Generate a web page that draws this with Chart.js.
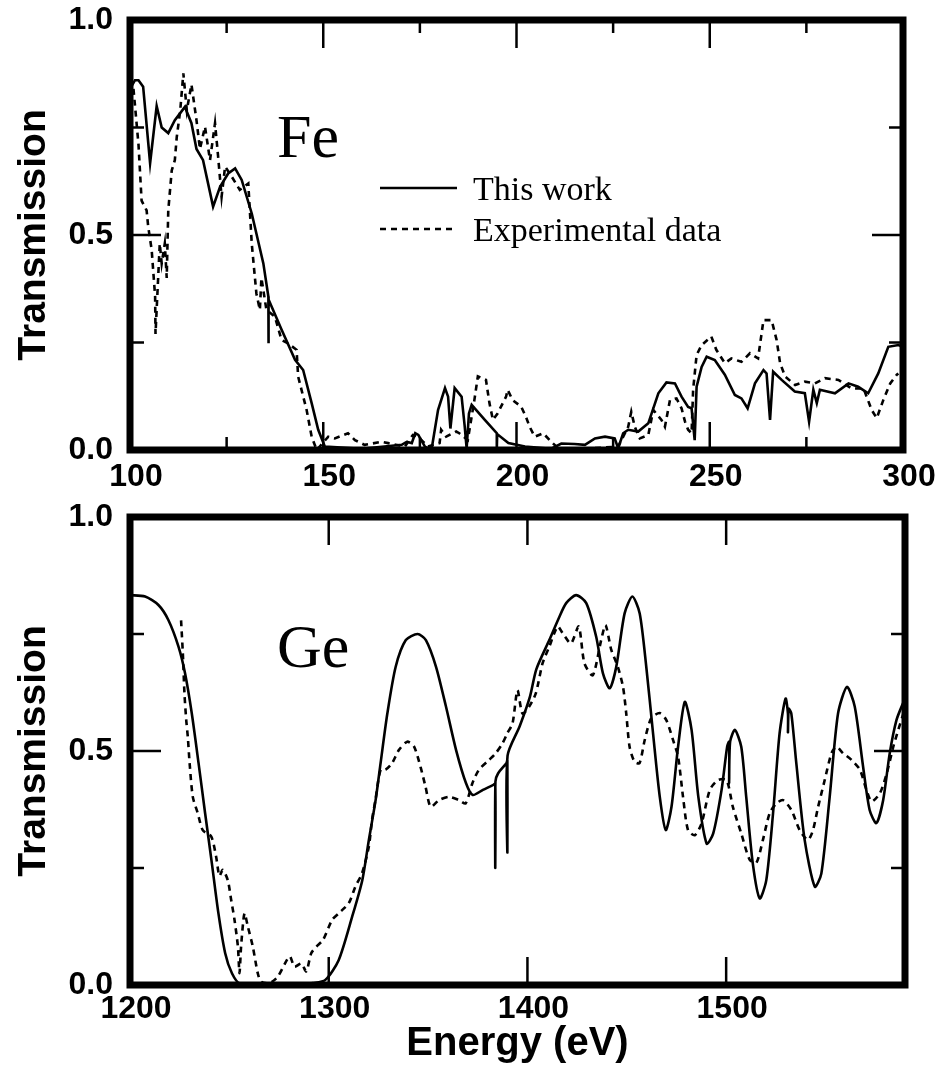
<!DOCTYPE html>
<html>
<head>
<meta charset="utf-8">
<script src="https://cdn.jsdelivr.net/npm/chart.js@4.4.1/dist/chart.umd.min.js"></script>
<style>
  html, body { margin: 0; padding: 0; background: #fff; }
  #page { position: relative; width: 935px; height: 1074px; }
  .box { position: absolute; left: 0; width: 935px; }
  #top-box { top: 0; height: 495px; }
  #bottom-box { top: 495px; height: 579px; }
</style>
</head>
<body>
<div id="page">
  <div class="box" id="top-box"><canvas id="fe-chart"></canvas></div>
  <div class="box" id="bottom-box"><canvas id="ge-chart"></canvas></div>
</div>
<script>
// Fe, 100-300 eV: [energy, transmission]
const feWork = [
  [100, 0.84], [101.3, 0.86], [102.2, 0.86], [103.4, 0.845], [105.2, 0.667], [106.9, 0.80],
  [108.2, 0.75], [109.9, 0.737], [111.6, 0.767], [114.2, 0.798], [115.9, 0.76], [117.2, 0.70],
  [118.9, 0.674], [121.5, 0.566], [123.3, 0.612], [125.4, 0.643], [127.2, 0.655], [128.9, 0.628],
  [131.5, 0.55], [134.5, 0.434], [135.8, 0.357], [135.8, 0.248], [135.9, 0.35], [139.2, 0.28],
  [142.7, 0.21], [144.8, 0.186], [147.0, 0.109], [148.7, 0.047], [150.4, 0.008], [160, 0.003],
  [170.3, 0.012], [171.6, 0.019], [172.9, 0.016], [173.8, 0.039], [174.6, 0.035], [176.3, 0.008],
  [178.0, 0.0], [179.7, 0.093], [181.5, 0.144], [182.3, 0.124], [182.9, 0.05], [184.0, 0.144],
  [185.8, 0.124], [186.6, 0.055], [187.1, 0.004], [187.7, 0.085], [188.4, 0.105], [191.8, 0.07],
  [194.9, 0.039], [194.9, 0.0], [195.0, 0.037], [197.9, 0.016], [202.2, 0.008], [209.0, 0.003],
  [211.6, 0.015], [215.0, 0.014], [217.7, 0.012], [220.3, 0.027], [222.9, 0.031], [225.4, 0.027],
  [226.3, 0.004], [227.6, 0.039], [228.9, 0.047], [231.5, 0.043], [234.1, 0.062], [236.7, 0.132],
  [238.8, 0.157], [241.0, 0.155], [242.7, 0.124], [244.4, 0.10], [245.3, 0.097], [246.1, 0.023],
  [246.6, 0.147], [247.9, 0.193], [249.2, 0.217], [251.3, 0.209], [253.9, 0.175], [256.5, 0.128],
  [258.2, 0.12], [259.8, 0.097], [261.7, 0.155], [263.9, 0.186], [264.7, 0.178], [265.6, 0.07],
  [266.4, 0.182], [268.6, 0.163], [272.0, 0.136], [274.6, 0.132], [275.7, 0.066], [276.8, 0.14],
  [277.7, 0.109], [278.5, 0.14], [282.4, 0.132], [285.9, 0.155], [288.4, 0.147], [291.0, 0.132],
  [293.6, 0.178], [296.2, 0.24], [298.8, 0.244], [300, 0.24]
];
const feExp = [
  [100.9, 0.84], [102.2, 0.71], [103.0, 0.58], [104.3, 0.557], [104.7, 0.52], [105.6, 0.466],
  [106.5, 0.357], [106.6, 0.27], [107.7, 0.48], [108.2, 0.434], [109.0, 0.48], [109.5, 0.40],
  [109.9, 0.557], [110.8, 0.65], [111.6, 0.674], [112.1, 0.728], [113.0, 0.79], [113.8, 0.876],
  [114.7, 0.79], [115.9, 0.85], [117.2, 0.767], [118.1, 0.70], [119.4, 0.752], [120.7, 0.674],
  [122.0, 0.76], [122.8, 0.682], [123.7, 0.589], [124.6, 0.659], [126.3, 0.636], [128.4, 0.605],
  [130.6, 0.62], [131.5, 0.48], [132.7, 0.364], [133.6, 0.326], [134.0, 0.40], [135.3, 0.326],
  [137.5, 0.31], [139.2, 0.256], [140.9, 0.248], [143.1, 0.233], [143.5, 0.171], [145.7, 0.093],
  [147.0, 0.031], [148.3, 0.0], [151.3, 0.031], [153.0, 0.027], [156.4, 0.039], [158.2, 0.023],
  [160.7, 0.012], [165.1, 0.019], [166.8, 0.016], [171.1, 0.008], [173.2, 0.035], [174.5, 0.031],
  [177.1, 0.008], [180.1, 0.016], [180.5, 0.047], [181.8, 0.031], [184.4, 0.043], [185.2, 0.039],
  [187.4, 0.023], [189.1, 0.116], [190.0, 0.171], [192.1, 0.163], [193.0, 0.109], [193.9, 0.07],
  [195.1, 0.085], [197.3, 0.124], [197.7, 0.14], [199.0, 0.116], [201.2, 0.101], [202.4, 0.078],
  [203.4, 0.054], [204.7, 0.031], [206.9, 0.039], [209.0, 0.019], [210.8, 0.004], [218, 0.003],
  [226.3, 0.008], [228.9, 0.054], [229.7, 0.089], [230.6, 0.054], [231.9, 0.027], [234.1, 0.035],
  [235.4, 0.093], [237.5, 0.07], [238.4, 0.054], [239.7, 0.116], [241.4, 0.12], [242.7, 0.097],
  [243.6, 0.066], [244.4, 0.047], [245.3, 0.039], [245.7, 0.14], [246.6, 0.221], [247.9, 0.244],
  [250.4, 0.264], [251.7, 0.233], [253.9, 0.202], [255.6, 0.213], [258.2, 0.205], [260.4, 0.225],
  [262.5, 0.213], [263.9, 0.302], [266.0, 0.302], [267.3, 0.256], [268.2, 0.202], [269.5, 0.171],
  [272.1, 0.151], [274.6, 0.159], [277.2, 0.155], [279.8, 0.167], [283.3, 0.163], [286.7, 0.143],
  [289.8, 0.143], [291.9, 0.093], [293.2, 0.074], [294.9, 0.116], [296.7, 0.155], [298.4, 0.175],
  [298.8, 0.178]
];

// Ge, 1200-1590 eV
const geWork = [
  [1200, 0.833], [1207.6, 0.83], [1214.3, 0.812], [1219.3, 0.78], [1224.4, 0.723], [1227.7, 0.666],
  [1231.1, 0.58], [1234.5, 0.474], [1237.8, 0.367], [1241.2, 0.26], [1244.5, 0.153], [1247.9, 0.068],
  [1251.3, 0.025], [1255.3, 0.003], [1270, 0.0], [1285, 0.0], [1292, 0.004], [1298.3, 0.011],
  [1305, 0.053], [1311.8, 0.146], [1316.9, 0.224], [1320.2, 0.31], [1323.6, 0.395], [1326.1, 0.474],
  [1329.5, 0.58], [1333.7, 0.68], [1338.8, 0.737], [1344.7, 0.75], [1348.9, 0.737], [1354, 0.68],
  [1359, 0.595], [1364.1, 0.502], [1369.1, 0.431], [1372.5, 0.406], [1377.6, 0.417], [1382.6, 0.427],
  [1383.8, 0.43], [1383.8, 0.25], [1383.9, 0.435], [1385.2, 0.452], [1389.4, 0.474], [1389.9, 0.48],
  [1389.9, 0.283], [1390.0, 0.49], [1396.1, 0.553], [1401.2, 0.615], [1404.5, 0.675], [1411, 0.737],
  [1416.1, 0.787], [1419.5, 0.816], [1424.5, 0.833], [1429.6, 0.816], [1434.6, 0.744], [1438, 0.666],
  [1441.4, 0.634], [1444.7, 0.68], [1448.9, 0.794], [1452.8, 0.83], [1456.5, 0.794], [1459.8, 0.68],
  [1463.2, 0.538], [1466.6, 0.402], [1469.6, 0.331], [1472.5, 0.381], [1475.8, 0.509], [1479.2, 0.605],
  [1482.6, 0.545], [1486, 0.402], [1490.2, 0.302], [1493.5, 0.324], [1497.7, 0.417], [1500.5, 0.509],
  [1501.5, 0.52], [1501.5, 0.43], [1502, 0.52], [1504.4, 0.545], [1507.6, 0.509], [1510.1, 0.402],
  [1513.4, 0.26], [1516.9, 0.185], [1520.2, 0.224], [1523.6, 0.367], [1526.9, 0.538], [1529.9, 0.612],
  [1531.1, 0.58], [1531.1, 0.54], [1531.5, 0.59], [1532.8, 0.58], [1535.3, 0.474], [1539.5, 0.31],
  [1544.6, 0.21], [1547.9, 0.238], [1552.1, 0.402], [1556.3, 0.58], [1560.8, 0.637], [1564.7, 0.595],
  [1568.9, 0.467], [1572.2, 0.374], [1575.6, 0.346], [1579, 0.395], [1582.3, 0.495], [1585.7, 0.566],
  [1589, 0.602], [1590, 0.61]
];
const geExp = [
  [1225.7, 0.779], [1226.6, 0.708], [1227.4, 0.623], [1228.3, 0.566], [1229.1, 0.53], [1230, 0.474],
  [1231.6, 0.402], [1234.1, 0.367], [1236.6, 0.331], [1240.9, 0.317], [1243.3, 0.275], [1245, 0.233],
  [1246.7, 0.246], [1249.2, 0.224], [1250.9, 0.182], [1252.6, 0.139], [1254.3, 0.082], [1255.1, 0.025],
  [1255.9, 0.082], [1257.6, 0.153], [1259.3, 0.125], [1261.8, 0.082], [1264.3, 0.025], [1266, 0.007],
  [1270.2, 0.004], [1274.4, 0.018], [1280.3, 0.061], [1282.8, 0.039], [1286.2, 0.046], [1288.7, 0.029],
  [1291.2, 0.068], [1293.8, 0.082], [1297.1, 0.096], [1301.7, 0.139], [1305, 0.153], [1310.1, 0.175],
  [1313.4, 0.21], [1316.8, 0.239], [1320.2, 0.296], [1321.8, 0.353], [1323.5, 0.395], [1326.1, 0.46],
  [1328.6, 0.46], [1331.9, 0.474], [1335.3, 0.502], [1339.5, 0.52], [1342.9, 0.51], [1346.2, 0.466],
  [1348.7, 0.424], [1351.3, 0.381], [1355.5, 0.395], [1360.5, 0.402], [1365.6, 0.395], [1368.9, 0.388],
  [1372.3, 0.431], [1375.6, 0.46], [1380.7, 0.481], [1384, 0.495], [1387.4, 0.516], [1389.9, 0.538],
  [1392.5, 0.559], [1395, 0.63], [1397.5, 0.58], [1400.9, 0.595], [1404.2, 0.623], [1407.6, 0.687],
  [1411, 0.723], [1415.2, 0.766], [1417.7, 0.752], [1421.9, 0.73], [1425.8, 0.766], [1428.7, 0.687],
  [1432.9, 0.662], [1437.1, 0.737], [1439.3, 0.769], [1442.2, 0.716], [1445.5, 0.68], [1448.1, 0.637],
  [1449.7, 0.581], [1451.4, 0.509], [1453.9, 0.477], [1456.4, 0.474], [1459, 0.523], [1462.3, 0.57],
  [1466.6, 0.581], [1469.9, 0.566], [1473.3, 0.523], [1475.8, 0.488], [1478.3, 0.402], [1480.8, 0.331],
  [1484.2, 0.32], [1487.6, 0.345], [1491.8, 0.417], [1496, 0.438], [1500.2, 0.438], [1503.4, 0.38],
  [1507.6, 0.324], [1511.8, 0.268], [1515.2, 0.261], [1518.5, 0.31], [1521.9, 0.367], [1525.3, 0.388],
  [1528.6, 0.395], [1532.8, 0.374], [1537, 0.331], [1541.2, 0.31], [1543.7, 0.331], [1546.3, 0.381],
  [1549.6, 0.438], [1553, 0.495], [1555.5, 0.509], [1558.9, 0.495], [1563.1, 0.481], [1567.3, 0.46],
  [1570.6, 0.417], [1573.2, 0.392], [1577.4, 0.41], [1580.8, 0.452], [1584.1, 0.509], [1586.6, 0.545],
  [1589.2, 0.58]
];

// ticks
const feXLabels = [100, 150, 200, 250, 300];
const feXMajor = [150, 200, 250];
const feXMinor = [125, 175, 225, 275];
const geXLabels = [1200, 1300, 1400, 1500];
const geXMajor = [1300, 1400, 1500];
const geXMinor = [];
const yLabels = [0, 0.5, 1];
const yMajor = [0.5];
const yMinor = [0.25, 0.75];

const seriesNames = ["This work", "Experimental data"];

// thick frame + inward ticks on all four sides
const framePlugin = {
  id: "frame",
  afterDatasetsDraw(chart, args, opts) {
    const { ctx, chartArea: a } = chart;
    const x = chart.scales.x, y = chart.scales.y;
    ctx.save();
    ctx.strokeStyle = "#000";
    const seg = (x1, y1, x2, y2) => {
      ctx.lineWidth = 2.5;
      ctx.beginPath();
      ctx.moveTo(x1, y1);
      ctx.lineTo(x2, y2);
      ctx.stroke();
    };
    const xt = (vals, len) => vals.forEach((v) => {
      const p = x.getPixelForValue(v);
      seg(p, a.top, p, a.top + len);
      seg(p, a.bottom, p, a.bottom - len);
    });
    const yt = (vals, len) => vals.forEach((v) => {
      const p = y.getPixelForValue(v);
      seg(a.left, p, a.left + len, p);
      seg(a.right, p, a.right - len, p);
    });
    xt(opts.xMajor, 28);
    xt(opts.xMinor, 13);
    yt(yMajor, 31);
    yt(yMinor, 14);
    ctx.lineWidth = 7;
    ctx.strokeRect(a.left, a.top, a.width, a.height);
    ctx.restore();
  },
};

// element name and the in-plot legend
const notesPlugin = {
  id: "notes",
  afterDraw(chart, args, opts) {
    const { ctx, chartArea: a } = chart;
    ctx.save();
    ctx.fillStyle = "#000";
    ctx.strokeStyle = "#000";
    ctx.textAlign = "left";
    ctx.textBaseline = "alphabetic";
    ctx.font = '62px "Liberation Serif"';
    ctx.fillText(opts.element, a.left + 147, a.top + opts.elementBaseline);
    if (opts.legend) {
      ctx.font = '34px "Liberation Serif"';
      chart.data.datasets.forEach((ds, i) => {
        const ly = a.top + 168 + i * 41;
        ctx.lineWidth = ds.borderWidth;
        ctx.setLineDash(ds.borderDash || []);
        ctx.beginPath();
        ctx.moveTo(a.left + 250, ly);
        ctx.lineTo(a.left + 327, ly);
        ctx.stroke();
        ctx.setLineDash([]);
        ctx.fillText(ds.label, a.left + 343, ly + 12);
      });
    }
    ctx.restore();
  },
};

const toPoints = (arr) => arr.map(([x, y]) => ({ x, y }));
const tickFont = { family: "Liberation Sans", size: 32, weight: "bold" };
const titleFont = { family: "Liberation Sans", size: 39, weight: "bold" };

function buildChart(id, cfg) {
  return new Chart(document.getElementById(id), {
    type: "line",
    data: {
      datasets: [
        {
          label: seriesNames[0],
          data: toPoints(cfg.work),
          borderColor: "#000",
          borderWidth: 2.6,
          pointRadius: 0,
          tension: cfg.tension,
          fill: false,
        },
        {
          label: seriesNames[1],
          data: toPoints(cfg.exp),
          borderColor: "#000",
          borderWidth: 2.6,
          borderDash: [6, 5],
          pointRadius: 0,
          tension: cfg.tension,
          fill: false,
        },
      ],
    },
    options: {
      responsive: true,
      maintainAspectRatio: false,
      animation: false,
      events: [],
      layout: { padding: cfg.padding },
      plugins: {
        legend: { display: false },
        tooltip: { enabled: false },
        frame: { xMajor: cfg.xMajor, xMinor: cfg.xMinor },
        notes: { element: cfg.element, elementBaseline: cfg.elementBaseline, legend: cfg.legend },
      },
      scales: {
        x: {
          type: "linear",
          min: cfg.xMin,
          max: cfg.xMax,
          afterBuildTicks: (s) => { s.ticks = cfg.xLabels.map((v) => ({ value: v })); },
          afterFit: (s) => {
            s.height = cfg.xHeight;
            s.paddingLeft = 0;
            s.paddingRight = 0;
          },
          grid: { display: false, drawTicks: false },
          border: { display: false },
          ticks: {
            color: "#000",
            font: tickFont,
            padding: cfg.xPad,
            labelOffset: 6,
            maxRotation: 0,
            autoSkip: false,
            callback: (v) => String(v),
          },
          title: {
            display: !!cfg.xTitle,
            text: cfg.xTitle || "",
            color: "#000",
            font: { family: "Liberation Sans", size: 40, weight: "bold" },
            padding: { top: 0, bottom: 6 },
          },
        },
        y: {
          min: 0,
          max: 1,
          afterBuildTicks: (s) => { s.ticks = yLabels.map((v) => ({ value: v })); },
          afterFit: (s) => {
            s.width = 130;
            s.paddingTop = 0;
            s.paddingBottom = 0;
          },
          grid: { display: false, drawTicks: false },
          border: { display: false },
          ticks: {
            color: "#000",
            font: tickFont,
            padding: 17,
            callback: (v) => v.toFixed(1),
          },
          title: {
            display: true,
            text: "Transmission",
            color: "#000",
            font: titleFont,
            padding: { top: 11, bottom: 0 },
          },
        },
      },
    },
    plugins: [framePlugin, notesPlugin],
  });
}

buildChart("fe-chart", {
  work: feWork, exp: feExp, tension: 0,
  xMin: 100, xMax: 300, xLabels: feXLabels, xMajor: feXMajor, xMinor: feXMinor,
  padding: { top: 20, right: 32, left: 0, bottom: 0 },
  xHeight: 45, xPad: 8,
  element: "Fe", elementBaseline: 137, legend: true,
});

buildChart("ge-chart", {
  work: geWork, exp: geExp, tension: 0.25,
  xMin: 1200, xMax: 1590, xLabels: geXLabels, xMajor: geXMajor, xMinor: geXMinor,
  padding: { top: 22, right: 30, left: 0, bottom: 0 },
  xHeight: 89, xPad: 5, xTitle: "Energy (eV)",
  element: "Ge", elementBaseline: 150, legend: false,
});
</script>
</body>
</html>
